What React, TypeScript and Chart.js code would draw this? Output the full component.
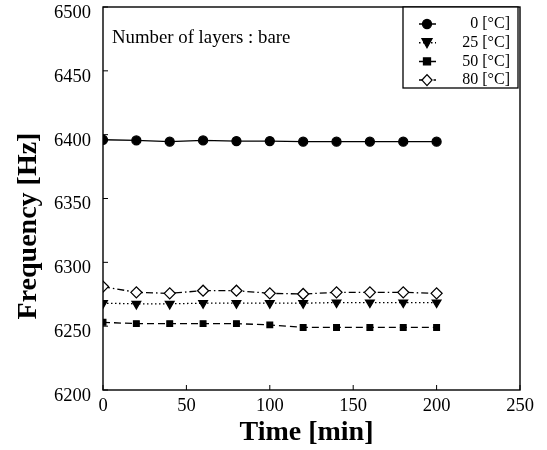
import React, { useEffect, useRef } from "react";
import { Chart, registerables } from "chart.js";

Chart.register(...registerables);

const times = [0, 20, 40, 60, 80, 100, 120, 140, 160, 180, 200];
const series0 = [6396, 6395.5, 6394.5, 6395.5, 6395, 6395, 6394.5, 6394.5, 6394.5, 6394.5, 6394.5];
const series25 = [6268, 6267.5, 6267.5, 6268, 6268, 6268, 6268, 6268.5, 6268.5, 6268.5, 6268.5];
const series50 = [6253, 6252, 6252, 6252, 6252, 6251, 6249, 6249, 6249, 6249, 6249];
const series80 = [6281, 6276.5, 6275.7, 6277.8, 6277.8, 6275.7, 6275.2, 6276.5, 6276.5, 6276.5, 6275.7];
const seriesLabels = ["0 [\u00B0C]", "25 [\u00B0C]", "50 [\u00B0C]", "80 [\u00B0C]"];
const xTicks = [0, 50, 100, 150, 200, 250];
const yTicks = [6200, 6250, 6300, 6350, 6400, 6450, 6500];
const annotation = "Number of layers : bare";
const xTitle = "Time [min]";
const yTitle = "Frequency [Hz]";

const FONT = "'Liberation Serif', 'Times New Roman', serif";

function drawMarker(ctx: any, style: string, x: number, y: number, fill: string) {
  ctx.save();
  ctx.fillStyle = fill;
  ctx.strokeStyle = "#000";
  ctx.lineWidth = 1.3;
  ctx.beginPath();
  if (style === "circle") {
    ctx.arc(x, y, 4.5, 0, Math.PI * 2);
  } else if (style === "rect") {
    ctx.rect(x - 3.5, y - 3.5, 7, 7);
  } else if (style === "triangle") {
    ctx.moveTo(x - 5, y - 4);
    ctx.lineTo(x + 5, y - 4);
    ctx.lineTo(x, y + 5);
    ctx.closePath();
  } else {
    ctx.moveTo(x, y - 5.5);
    ctx.lineTo(x + 5, y);
    ctx.lineTo(x, y + 5.5);
    ctx.lineTo(x - 5, y);
    ctx.closePath();
  }
  ctx.fill();
  ctx.stroke();
  ctx.restore();
}

const framePlugin = {
  id: "frame",
  afterDatasetsDraw(chart: any) {
    const { ctx, chartArea: a, scales } = chart;
    ctx.save();
    ctx.strokeStyle = "#000";
    ctx.lineWidth = 1.4;
    ctx.strokeRect(a.left, a.top, a.right - a.left, a.bottom - a.top);
    ctx.lineWidth = 1;
    ctx.beginPath();
    for (const t of xTicks) {
      const x = scales.x.getPixelForValue(t);
      ctx.moveTo(x, a.bottom);
      ctx.lineTo(x, a.bottom - 5);
    }
    for (const t of yTicks) {
      const y = scales.y.getPixelForValue(t);
      ctx.moveTo(a.left, y);
      ctx.lineTo(a.left + 5, y);
    }
    ctx.stroke();
    // annotation
    ctx.fillStyle = "#000";
    ctx.font = `18.8px ${FONT}`;
    ctx.textAlign = "left";
    ctx.textBaseline = "middle";
    ctx.fillText(annotation, a.left + 9, a.top + 31);
    // axis titles
    ctx.font = `bold 28px ${FONT}`;
    ctx.textAlign = "center";
    ctx.textBaseline = "middle";
    ctx.fillText(xTitle, (a.left + a.right) / 2 - 5, 433);
    ctx.save();
    ctx.translate(29, 226);
    ctx.rotate(-Math.PI / 2);
    ctx.fillText(yTitle, 0, 0);
    ctx.restore();
    // legend box
    const bx = 403, by = a.top, bw = a.right - 2 - 403, bh = 81;
    ctx.fillStyle = "#fff";
    ctx.fillRect(bx, by, bw, bh);
    ctx.strokeStyle = "#000";
    ctx.lineWidth = 1.3;
    ctx.strokeRect(bx, by, bw, bh);
    chart.data.datasets.forEach((ds: any, i: number) => {
      const y = by + 17 + i * 18.7;
      ctx.save();
      ctx.strokeStyle = "#000";
      ctx.lineWidth = 1.5;
      ctx.setLineDash(ds.borderDash || []);
      ctx.beginPath();
      ctx.moveTo(bx + 16, y);
      ctx.lineTo(bx + 33, y);
      ctx.stroke();
      ctx.restore();
      drawMarker(ctx, ds.pointStyle, bx + 24, y, ds.pointBackgroundColor);
      ctx.fillStyle = "#000";
      ctx.font = `16px ${FONT}`;
      ctx.textAlign = "right";
      ctx.textBaseline = "middle";
      ctx.fillText(ds.label, bx + bw - 8, y);
    });
    ctx.restore();
  },
};

export default function App() {
  const ref = useRef<HTMLCanvasElement>(null);
  useEffect(() => {
    document.body.style.margin = "0";
    const mk = (d: number[]) => times.map((t, i) => ({ x: t, y: d[i] }));
    const base = {
      borderColor: "#000",
      borderWidth: 1.3,
      pointBorderColor: "#000",
      pointBorderWidth: 1.3,
      pointRadius: 4.5,
      showLine: true,
      tension: 0,
    };
    const chart = new Chart(ref.current!, {
      type: "scatter",
      data: {
        datasets: [
          { ...base, label: seriesLabels[0], data: mk(series0), pointStyle: "circle", pointBackgroundColor: "#000", borderDash: [] },
          { ...base, label: seriesLabels[1], data: mk(series25), pointStyle: "triangle", pointRotation: 180, pointRadius: 5, pointBackgroundColor: "#000", borderDash: [1.5, 2.5] },
          { ...base, label: seriesLabels[2], data: mk(series50), pointStyle: "rect", pointRadius: 4, pointBackgroundColor: "#000", borderDash: [7, 4] },
          { ...base, label: seriesLabels[3], data: mk(series80), pointStyle: "rectRot", pointRadius: 5.5, pointBackgroundColor: "#fff", borderDash: [7, 3, 1.5, 3] },
        ] as any,
      },
      options: {
        animation: false,
        responsive: false,
        layout: { padding: { left: 0, right: 27, top: 7, bottom: 0 } },
        plugins: { legend: { display: false }, tooltip: { enabled: false } },
        scales: {
          x: {
            type: "linear",
            min: 0,
            max: 250,
            afterBuildTicks: (s: any) => { s.ticks = xTicks.map((v) => ({ value: v })); },
            afterFit: (s: any) => { s.height = 60; s.paddingLeft = 0; s.paddingRight = 0; },
            grid: { display: false, drawTicks: false },
            border: { display: false },
            ticks: { color: "#000", font: { family: FONT, size: 18.5 }, padding: 5, maxRotation: 0, callback: (v: any) => String(v) },
            title: { display: false },
          },
          y: {
            type: "linear",
            min: 6200,
            max: 6500,
            afterBuildTicks: (s: any) => { s.ticks = yTicks.map((v) => ({ value: v })); },
            afterFit: (s: any) => { s.width = 103; s.paddingTop = 0; s.paddingBottom = 0; },
            grid: { display: false, drawTicks: false },
            border: { display: false },
            ticks: { color: "#000", font: { family: FONT, size: 18.5 }, padding: 12, labelOffset: 6, callback: (v: any) => String(v) },
            title: { display: false },
          },
        },
      } as any,
      plugins: [framePlugin],
    });
    return () => chart.destroy();
  }, []);
  return (
    <div style={{ width: 547, height: 450, background: "#fff" }}>
      <canvas ref={ref} width={547} height={450} style={{ display: "block" }} />
    </div>
  );
}
